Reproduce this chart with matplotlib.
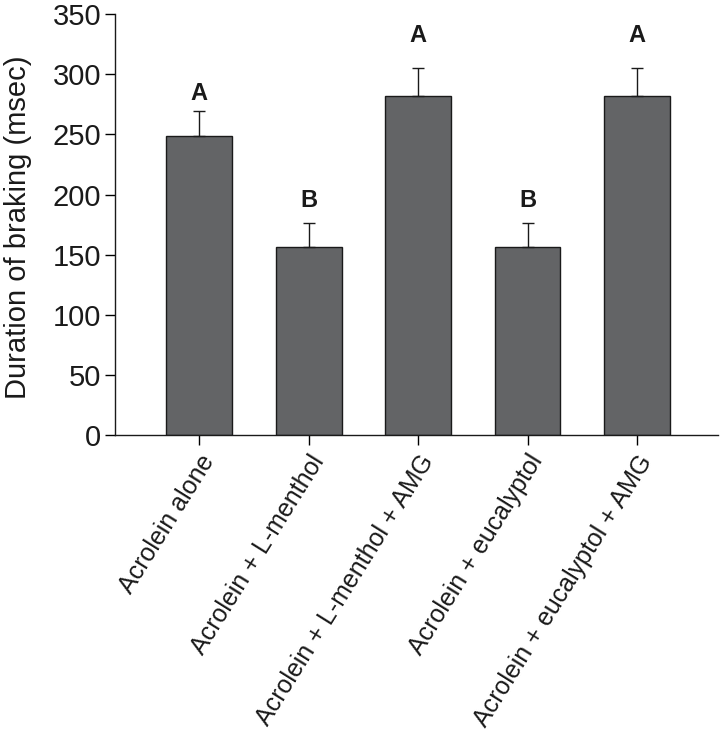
import numpy as np
import matplotlib
matplotlib.use("Agg")
import matplotlib.pyplot as plt

plt.rcParams["font.family"] = ["Liberation Sans", "DejaVu Sans"]

# data
groups = [
    "Acrolein alone",
    "Acrolein + L-menthol",
    "Acrolein + L-menthol + AMG",
    "Acrolein + eucalyptol",
    "Acrolein + eucalyptol + AMG",
]
means = [249, 156, 282, 156, 282]
errors = [20, 20, 23, 20, 23]
letters = ["A", "B", "A", "B", "A"]
letter_y = [284, 195, 332, 195, 332]
yticks = [0, 50, 100, 150, 200, 250, 300, 350]

fig = plt.figure(figsize=(7.2, 7.37), dpi=100)
ax = fig.add_axes([115 / 720, 1 - 435.3 / 737, 603 / 720, 421.4 / 737])

x = np.arange(len(groups))
ax.bar(x, means, width=0.6, color="#636466", edgecolor="#1a1a1a", linewidth=1.0)
ax.errorbar(x, means, yerr=[np.zeros(len(errors)), errors], fmt="none",
            ecolor="#1a1a1a", elinewidth=1.0, capsize=4.6, capthick=1.0)

for xi, lab, ly in zip(x, letters, letter_y):
    ax.text(xi, ly, lab, ha="center", va="center", fontsize=17, fontweight="bold",
            color="#1a1a1a")

ax.set_xlim(-0.77, 4.74)
ax.set_ylim(0, 350)
ax.set_yticks(yticks)
ax.set_xticks(x)
ax.set_xticklabels(groups, rotation=58, ha="right", rotation_mode="anchor",
                   fontsize=18, color="#1a1a1a")
ax.tick_params(axis="y", labelsize=21, length=7, width=1.0, pad=3, labelcolor="#1a1a1a")
ax.tick_params(axis="x", length=7, width=1.0, pad=4)

for side in ["top", "right"]:
    ax.spines[side].set_visible(False)
for side in ["left", "bottom"]:
    ax.spines[side].set_linewidth(1.0)
    ax.spines[side].set_color("#1a1a1a")

ax.set_ylabel("Duration of braking (msec)", fontsize=21, color="#1a1a1a")
ax.yaxis.set_label_coords(-0.138, 0.493)

fig.savefig("out.png", dpi=100)
